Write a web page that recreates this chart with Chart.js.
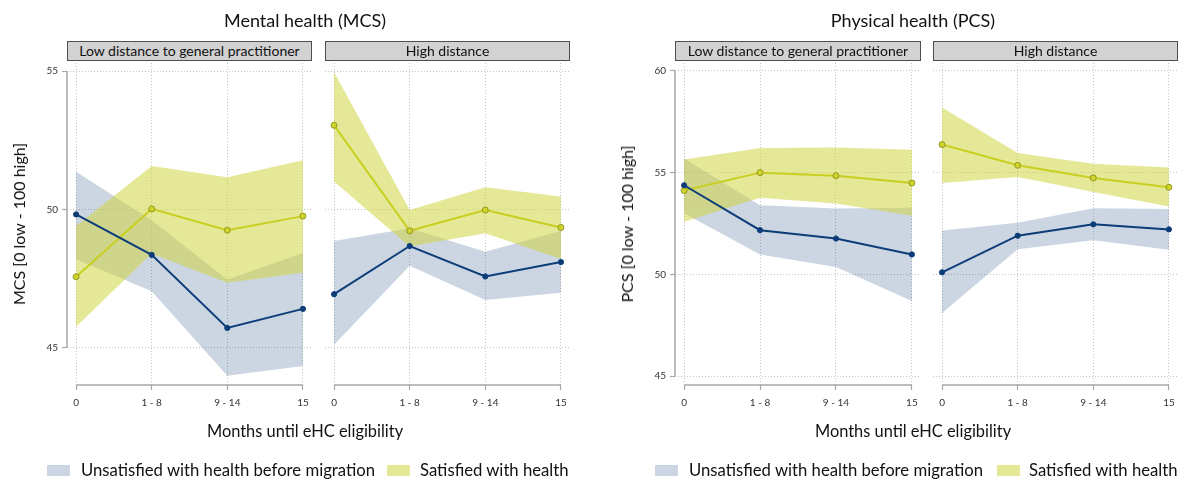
<!DOCTYPE html>
<html><head><meta charset="utf-8">
<script src="https://cdn.jsdelivr.net/npm/chart.js@4.4.1/dist/chart.umd.min.js"></script>
<style>
html,body{margin:0;padding:0;background:#fff}
body{width:1185px;height:482px;position:relative;overflow:hidden;font-family:Lato,"Open Sans",sans-serif;color:#111}
canvas.c{position:absolute;left:0;top:0}
.t{position:absolute;white-space:nowrap;line-height:1;transform:translate(-50%,-50%)}
.ty{position:absolute;white-space:nowrap;line-height:1;transform:translate(-50%,-50%) rotate(-90deg)}
.lg{position:absolute;white-space:nowrap;line-height:1;transform:translateY(-50%);font-size:16.7px}
.strip{position:absolute;top:41px;height:20px;background:#d2d2d2;border:1.5px solid #4e4e4e;box-sizing:border-box;text-align:center;font-size:14px;line-height:17px;color:#111}
.sw{position:absolute;top:465px;width:23px;height:11px}
</style></head>
<body>
<canvas class="c" id="mcsLow" width="1185" height="482"></canvas>
<canvas class="c" id="mcsHigh" width="1185" height="482"></canvas>
<canvas class="c" id="pcsLow" width="1185" height="482"></canvas>
<canvas class="c" id="pcsHigh" width="1185" height="482"></canvas>

<div class="t" style="left:305px;top:20px;font-size:18px">Mental health (MCS)</div>
<div class="t" style="left:913px;top:20px;font-size:18px">Physical health (PCS)</div>

<div class="strip" style="left:67px;width:245px">Low distance to general practitioner</div>
<div class="strip" style="left:325px;width:245px">High distance</div>
<div class="strip" style="left:675px;width:246px">Low distance to general practitioner</div>
<div class="strip" style="left:933px;width:245px">High distance</div>

<div class="ty" style="left:19px;top:224px;font-size:16px">MCS [0 low - 100 high]</div>
<div class="ty" style="left:627px;top:224px;font-size:16px">PCS [0 low - 100 high]</div>

<div class="t" style="left:305px;top:431px;font-size:16.4px">Months until eHC eligibility</div>
<div class="t" style="left:913px;top:431px;font-size:16.4px">Months until eHC eligibility</div>

<div class="sw" style="left:47px;background:rgba(15,60,120,0.21)"></div>
<div class="lg" style="left:81px;top:470px">Unsatisfied with health before migration</div>
<div class="sw" style="left:387px;background:rgba(208,213,66,0.55)"></div>
<div class="lg" style="left:420px;top:470px">Satisfied with health</div>
<div class="sw" style="left:655px;background:rgba(15,60,120,0.21)"></div>
<div class="lg" style="left:689px;top:470px">Unsatisfied with health before migration</div>
<div class="sw" style="left:997px;background:rgba(208,213,66,0.55)"></div>
<div class="lg" style="left:1029px;top:470px">Satisfied with health</div>

<script>
// ---------- data ----------
const categories = ['0', '1 - 8', '9 - 14', '15'];
const mcsTicks = [45, 50, 55];
const pcsTicks = [45, 50, 55, 60];

// Mental health (MCS), low distance
const mcsLowUnsatMean = [49.82, 48.36, 45.72, 46.41];
const mcsLowUnsatLo   = [48.20, 47.05, 43.99, 44.35];
const mcsLowUnsatHi   = [51.36, 49.61, 47.47, 48.43];
const mcsLowSatMean   = [47.57, 50.02, 49.25, 49.76];
const mcsLowSatLo     = [45.76, 48.41, 47.35, 47.71];
const mcsLowSatHi     = [49.40, 51.57, 51.16, 51.78];
// Mental health (MCS), high distance
const mcsHighUnsatMean = [46.94, 48.68, 47.58, 48.10];
const mcsHighUnsatLo   = [45.11, 47.97, 46.73, 46.99];
const mcsHighUnsatHi   = [48.86, 49.32, 48.47, 49.23];
const mcsHighSatMean   = [53.04, 49.23, 49.98, 49.35];
const mcsHighSatLo     = [51.01, 48.66, 49.14, 48.21];
const mcsHighSatHi     = [54.96, 49.98, 50.80, 50.47];
// Physical health (PCS), low distance
const pcsLowUnsatMean = [54.38, 52.17, 51.76, 50.98];
const pcsLowUnsatLo   = [53.00, 50.98, 50.36, 48.69];
const pcsLowUnsatHi   = [55.70, 53.40, 53.24, 53.28];
const pcsLowSatMean   = [54.12, 55.00, 54.85, 54.49];
const pcsLowSatLo     = [52.58, 53.76, 53.48, 52.88];
const pcsLowSatHi     = [55.65, 56.21, 56.23, 56.13];
// Physical health (PCS), high distance
const pcsHighUnsatMean = [50.10, 51.90, 52.46, 52.21];
const pcsHighUnsatLo   = [48.10, 51.23, 51.67, 51.21];
const pcsHighUnsatHi   = [52.16, 52.54, 53.25, 53.21];
const pcsHighSatMean   = [56.38, 55.36, 54.74, 54.28];
const pcsHighSatLo     = [54.49, 54.79, 54.05, 53.33];
const pcsHighSatHi     = [58.20, 55.97, 55.44, 55.25];

// ---------- styles ----------
const BLUE_LINE = '#0c3d78';
const BLUE_BAND = 'rgba(15,60,120,0.21)';
const YEL_LINE = '#c9cf21';
const YEL_BAND = 'rgba(208,213,66,0.55)';
const YEL_PT_BORDER = '#8c9115';
const GRID = '#c4c4c4';
const AXIS = '#a8a8a8';

Chart.defaults.font.family = 'Lato, "Open Sans", sans-serif';

const pts = arr => arr.map((v, i) => ({x: i, y: v}));

const axisLines = {
  id: 'axisLines',
  afterDraw(chart, args, opts) {
    const ctx = chart.ctx, xs = chart.scales.x, ys = chart.scales.y;
    const a = chart.chartArea;
    ctx.save();
    ctx.strokeStyle = AXIS; ctx.lineWidth = 1.5; ctx.lineCap = 'butt';
    ctx.beginPath();
    ctx.moveTo(xs.getPixelForValue(0), a.bottom);
    ctx.lineTo(xs.getPixelForValue(categories.length - 1), a.bottom);
    if (opts.showY) {
      const t = opts.ticks;
      ctx.moveTo(a.left, ys.getPixelForValue(t[0]));
      ctx.lineTo(a.left, ys.getPixelForValue(t[t.length - 1]));
    }
    ctx.stroke();
    ctx.restore();
  }
};

function panel(id, d, yMin, yMax, yTicks, showY, pad) {
  const bandLine = {borderColor: 'transparent', borderWidth: 0, pointRadius: 0};
  new Chart(document.getElementById(id), {
    type: 'line',
    data: {
      datasets: [
        Object.assign({data: pts(d.uLo), fill: false, order: 5}, bandLine),
        Object.assign({data: pts(d.uHi), fill: '-1', backgroundColor: BLUE_BAND, order: 4}, bandLine),
        Object.assign({data: pts(d.sLo), fill: false, order: 3}, bandLine),
        Object.assign({data: pts(d.sHi), fill: '-1', backgroundColor: YEL_BAND, order: 3}, bandLine),
        {data: pts(d.uMean), borderColor: BLUE_LINE, borderWidth: 2, pointRadius: 2.6,
         pointBackgroundColor: BLUE_LINE, pointBorderColor: BLUE_LINE, pointBorderWidth: 1, fill: false, order: 0, tension: 0},
        {data: pts(d.sMean), borderColor: YEL_LINE, borderWidth: 2, pointRadius: 3,
         pointBackgroundColor: '#cfd42c', pointBorderColor: YEL_PT_BORDER, pointBorderWidth: 0.9, fill: false, order: 1, tension: 0}
      ]
    },
    options: {
      responsive: false, animation: false, events: [],
      layout: {padding: pad},
      plugins: {legend: {display: false}, tooltip: {enabled: false}, title: {display: false},
                axisLines: {showY: showY, ticks: yTicks}},
      scales: {
        x: {
          type: 'linear', min: -0.12, max: categories.length - 1 + 0.12,
          afterBuildTicks: s => { s.ticks = categories.map((_, i) => ({value: i})); },
          afterFit: s => { s.height = 25; },
          ticks: {callback: v => categories[v], font: {size: 10}, color: '#333', padding: 7, maxRotation: 0, autoSkip: false},
          grid: {color: GRID, lineWidth: 1, tickLength: 5, tickColor: AXIS, tickWidth: 1.2, tickBorderDash: []},
          border: {display: false, dash: [1, 2]}
        },
        y: {
          type: 'linear', min: yMin, max: yMax,
          afterBuildTicks: s => { s.ticks = yTicks.map(v => ({value: v})); },
          afterFit: s => { s.width = showY ? 25 : 0; },
          ticks: {display: showY, font: {size: 10}, color: '#333', padding: 4},
          grid: {color: GRID, lineWidth: 1, tickLength: showY ? 5 : 0, drawTicks: showY, tickColor: AXIS, tickWidth: 1.2, tickBorderDash: []},
          border: {display: false, dash: [1, 2]}
        }
      }
    },
    plugins: [axisLines]
  });
}

const mcsMin = 43.66, mcsMax = 55.29;
const pcsMin = 44.56, pcsMax = 60.39;

panel('mcsLow', {uMean: mcsLowUnsatMean, uLo: mcsLowUnsatLo, uHi: mcsLowUnsatHi,
                 sMean: mcsLowSatMean, sLo: mcsLowSatLo, sHi: mcsLowSatHi},
      mcsMin, mcsMax, mcsTicks, true, {left: 42, right: 873, top: 63, bottom: 72});
panel('mcsHigh', {uMean: mcsHighUnsatMean, uLo: mcsHighUnsatLo, uHi: mcsHighUnsatHi,
                  sMean: mcsHighSatMean, sLo: mcsHighSatLo, sHi: mcsHighSatHi},
      mcsMin, mcsMax, mcsTicks, false, {left: 325, right: 615, top: 63, bottom: 72});
panel('pcsLow', {uMean: pcsLowUnsatMean, uLo: pcsLowUnsatLo, uHi: pcsLowUnsatHi,
                 sMean: pcsLowSatMean, sLo: pcsLowSatLo, sHi: pcsLowSatHi},
      pcsMin, pcsMax, pcsTicks, true, {left: 650, right: 264, top: 63, bottom: 72});
panel('pcsHigh', {uMean: pcsHighUnsatMean, uLo: pcsHighUnsatLo, uHi: pcsHighUnsatHi,
                  sMean: pcsHighSatMean, sLo: pcsHighSatLo, sHi: pcsHighSatHi},
      pcsMin, pcsMax, pcsTicks, false, {left: 933, right: 7, top: 63, bottom: 72});
</script>
</body></html>
